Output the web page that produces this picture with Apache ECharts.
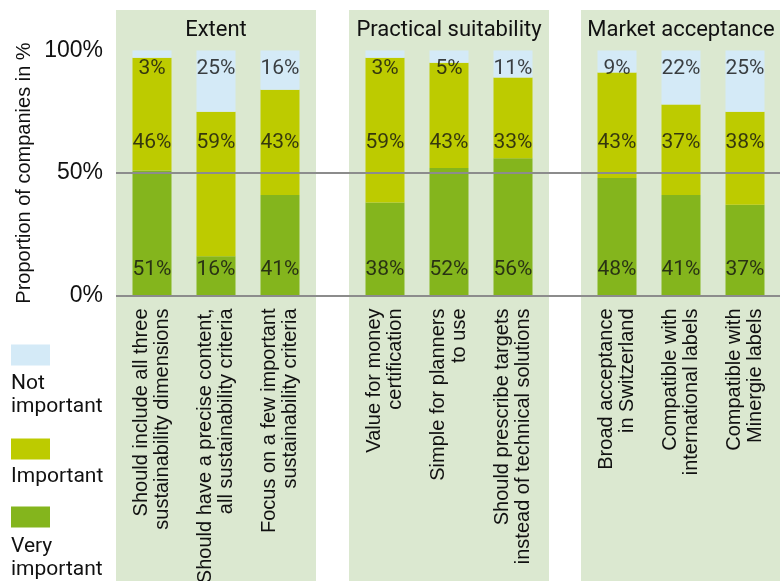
<!DOCTYPE html>
<html>
<head>
<meta charset="utf-8">
<title>Label requirements</title>
<script src="https://cdn.jsdelivr.net/npm/echarts@6/dist/echarts.min.js"></script>
<style>
  html, body { margin: 0; padding: 0; background: #ffffff; }
  #chart { width: 780px; height: 581px; }
</style>
</head>
<body>
<div id="chart"></div>
<script>
// Survey answers per requirement, in percent of companies
const GROUP_TITLES = ['Extent', 'Practical suitability', 'Market acceptance'];
const CATEGORIES = [
  'Should include all three\nsustainability dimensions',
  'Should have a precise content,\nall sustainability criteria',
  'Focus on a few important\nsustainability criteria',
  'Value for money\ncertification',
  'Simple for planners\nto use',
  'Should prescribe targets\ninstead of technical solutions',
  'Broad acceptance\nin Switzerland',
  'Compatible with\ninternational labels',
  'Compatible with\nMinergie labels'
];
const VERY_IMPORTANT = [51, 16, 41, 38, 52, 56, 48, 41, 37];
const IMPORTANT      = [46, 59, 43, 59, 43, 33, 43, 37, 38];
const NOT_IMPORTANT  = [3, 25, 16, 3, 5, 11, 9, 22, 25];
const Y_MIN = 0, Y_MAX = 100, Y_STEP = 50;

// Layout and styling
const FONT = '"Liberation Sans", Arial, sans-serif';
const NARROW = 'Roboto, "Liberation Sans", sans-serif';
const TEXT = '#111111';
const COLORS = { not: '#d4eaf7', imp: '#bdcb00', very: '#84b51d' };
const PANEL_FILL = '#dbe8d0';
const PANEL_LEFT = [116, 349, 581];
const PANEL_W = 200;
const BAND = 64;
const GRID_TOP = 50.5, GRID_H = 245;
const PER_GROUP = 3;
// value-label rows sit at fixed heights (in axis units)
const LABEL_ROWS = [
  { values: VERY_IMPORTANT, level: 10.4 },
  { values: IMPORTANT, level: 62.2 },
  { values: NOT_IMPORTANT, level: 92.7 }
];

const chart = echarts.init(document.getElementById('chart'), null, { renderer: 'canvas' });

const grid = [], xAxis = [], yAxis = [], series = [], title = [];

GROUP_TITLES.forEach((name, g) => {
  const cats = CATEGORIES.slice(g * PER_GROUP, (g + 1) * PER_GROUP);
  grid.push({
    left: PANEL_LEFT[g] + (PANEL_W - BAND * PER_GROUP) / 2,
    top: GRID_TOP, width: BAND * PER_GROUP, height: GRID_H,
    containLabel: false, outerBoundsMode: 'none'
  });
  xAxis.push({
    gridIndex: g, type: 'category', data: cats,
    axisLine: { show: false }, axisTick: { show: false },
    axisLabel: {
      interval: 0, rotate: 90, margin: 13,
      fontSize: 20, lineHeight: 21, color: TEXT, fontFamily: FONT
    }
  });
  yAxis.push({
    gridIndex: g, type: 'value', min: Y_MIN, max: Y_MAX, interval: Y_STEP,
    splitLine: { show: false }, axisLine: { show: false }, axisTick: { show: false },
    axisLabel: {
      show: g === 0, formatter: v => v + '%', margin: 17,
      fontSize: 23, color: TEXT, fontFamily: FONT
    },
    name: g === 0 ? 'Proportion of companies in %' : '',
    nameLocation: 'middle', nameGap: 86,
    nameTextStyle: { fontSize: 20, color: TEXT, fontFamily: FONT }
  });

  const slice = arr => arr.slice(g * PER_GROUP, (g + 1) * PER_GROUP);
  [
    ['Very important', VERY_IMPORTANT, COLORS.very],
    ['Important', IMPORTANT, COLORS.imp],
    ['Not important', NOT_IMPORTANT, COLORS.not]
  ].forEach(([sName, arr, color]) => {
    series.push({
      name: sName, type: 'bar', stack: 'g' + g,
      xAxisIndex: g, yAxisIndex: g,
      barWidth: 39, data: slice(arr),
      itemStyle: { color: color, borderWidth: 0 },
      emphasis: { disabled: true }
    });
  });

  LABEL_ROWS.forEach((row, r) => {
    series.push({
      name: 'values-' + g + '-' + r, type: 'scatter',
      xAxisIndex: g, yAxisIndex: g,
      symbolSize: 1, silent: true,
      itemStyle: { color: 'rgba(0,0,0,0)' },
      data: cats.map((c, i) => [i, row.level]),
      label: {
        show: true, position: 'inside',
        formatter: p => row.values[g * PER_GROUP + p.dataIndex] + '%',
        fontSize: 21, color: TEXT, fontFamily: NARROW
      },
      z: 6
    });
  });

  title.push({
    text: name, left: PANEL_LEFT[g] + PANEL_W / 2, top: 19, textAlign: 'center', padding: 0,
    textStyle: { fontSize: 22, fontWeight: 'normal', color: TEXT, fontFamily: NARROW }
  });
});

// reference lines at 0% and 50% running across all panels
grid.push({ left: 116, right: 0, top: GRID_TOP, height: GRID_H, containLabel: false, outerBoundsMode: 'none' });
xAxis.push({ gridIndex: 3, type: 'value', min: 0, max: 1, show: false });
yAxis.push({
  gridIndex: 3, type: 'value', min: Y_MIN, max: Y_MAX, interval: Y_STEP, z: 5,
  axisLine: { show: false }, axisTick: { show: false }, axisLabel: { show: false },
  splitLine: { show: true, showMaxLine: false, lineStyle: { color: '#8c8c8c', width: 2 } }
});

// stacked legend: swatch with caption underneath
const LEGEND_ITEMS = [
  { name: 'Not important', lines: ['Not', 'important'], swatchTop: 345, spacer: 81 },
  { name: 'Important', lines: ['Important'], swatchTop: 439, spacer: 56 },
  { name: 'Very important', lines: ['Very', 'important'], swatchTop: 507, spacer: 82 }
];
const LINE_H = 23;
const legend = LEGEND_ITEMS.map(item => {
  const boxHalf = (LINE_H * item.lines.length + 11) / 2;
  return {
    orient: 'vertical', left: 11, top: item.swatchTop + 10.5 - boxHalf, padding: 0,
    itemWidth: 39, itemHeight: 21, icon: 'rect',
    data: [item.name],
    formatter: () => '{s| }\n' + item.lines.map(l => '{t|' + l + '}').join('\n'),
    textStyle: {
      padding: [0, 0, 0, -44],
      rich: {
        s: { lineHeight: item.spacer, fontSize: 10 },
        t: { lineHeight: LINE_H, fontSize: 21, color: TEXT, fontFamily: NARROW }
      }
    }
  };
});

chart.setOption({
  animation: false,
  backgroundColor: '#ffffff',
  graphic: {
    elements: PANEL_LEFT.map(x => ({
      type: 'rect', silent: true, z: -1,
      shape: { x: x, y: 10, width: PANEL_W, height: 571 },
      style: { fill: PANEL_FILL }
    }))
  },
  title, legend, grid, xAxis, yAxis, series
});
</script>
</body>
</html>
